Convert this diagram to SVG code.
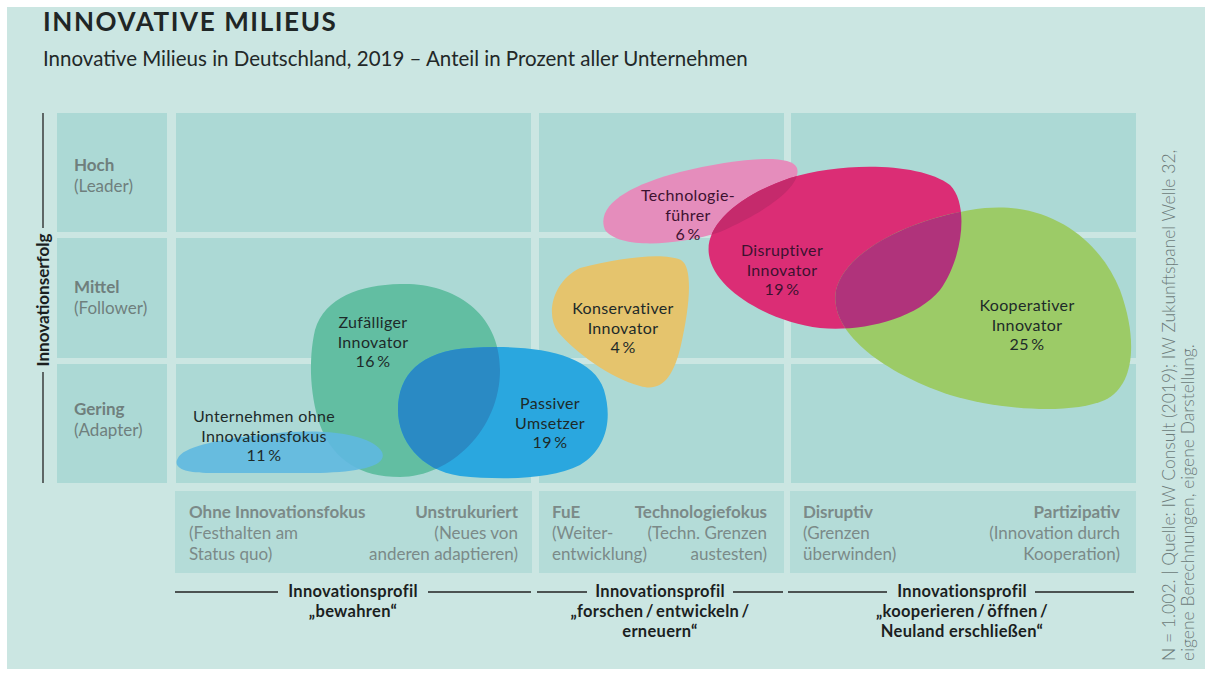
<svg xmlns="http://www.w3.org/2000/svg" width="1212" height="675" viewBox="0 0 1212 675">
<style>
  text { font-family: Lato, "Noto Sans", "Liberation Sans", sans-serif; }
  .cell { fill: #acd9d5; }
  .bcell { fill: #b4dcd8; }
  .rl { font-size: 17px; fill: #6f7f7d; }
  .rlb { font-size: 17px; fill: #6f7f7d; font-weight: bold; }
  .bl { font-size: 17px; fill: #7b8a88; }
  .blb { font-size: 17px; fill: #7b8a88; font-weight: bold; }
  .blob { font-size: 16px; letter-spacing: 0.35px; fill: #1d2a29; text-anchor: middle; }
  .blobm { font-size: 16px; letter-spacing: 0.35px; fill: #3d1230; text-anchor: middle; }
  .prof { font-size: 16.5px; letter-spacing: 0.3px; fill: #1b1f1f; font-weight: bold; text-anchor: middle; }
  .ln { stroke: #222; stroke-width: 1.3; fill: none; }
  .src { font-size: 17.5px; fill: #6c7a79; font-weight: 300; }
</style>
<defs>
  <path id="shG1" d="M 400 284 C 450 282, 500 310, 500 370 C 500 430, 450 477, 400 477 C 360 477, 335 460, 322 430 C 310 400, 308 360, 315 330 C 325 297, 360 285, 400 284 Z"/>
  <path id="shB" d="M 470 348 C 530 344, 592 352, 604 390 C 613 420, 606 450, 580 465 C 550 480, 500 480, 460 476 C 420 470, 398 440, 398 410 C 398 375, 420 351, 470 348 Z"/>
  <path id="shL" d="M 178 458 C 185 445, 230 437, 290 432 C 340 429, 375 438, 382 452 C 388 466, 360 472, 320 473 L 210 473 C 185 473, 172 468, 178 458 Z"/>
  <path id="shY" d="M 580 268 C 620 258, 662 252, 681 260 C 694 268, 689 310, 681 345 C 673 380, 660 392, 640 386 C 610 378, 575 352, 558 332 C 545 314, 553 281, 580 268 Z"/>
  <path id="shP" d="M 605 230 C 595 205, 630 185, 680 172 C 730 160, 790 152, 797 168 C 802 185, 770 210, 720 232 C 680 245, 620 250, 605 230 Z"/>
  <path id="shM" d="M 709 255 C 704 225, 740 195, 790 178 C 840 162, 920 162, 950 185 C 970 205, 962 260, 940 290 C 915 320, 860 332, 820 328 C 770 322, 714 290, 709 255 Z"/>
  <path id="shK" d="M 836 290 C 846 248, 920 215, 985 208 C 1050 202, 1100 240, 1120 290 C 1138 340, 1135 385, 1105 400 C 1070 415, 1000 410, 950 395 C 890 375, 828 335, 836 290 Z"/>
  <clipPath id="cG1"><use href="#shG1"/></clipPath>
  <clipPath id="cP"><use href="#shP"/></clipPath>
  <clipPath id="cM"><use href="#shM"/></clipPath>
</defs>

<rect x="0" y="0" width="1212" height="675" fill="#ffffff"/>
<rect x="7" y="7" width="1198" height="662" fill="#cbe6e2"/>

<g id="title">
  <text x="43" y="31" font-size="26" font-weight="bold" fill="#1f2626" letter-spacing="1.6">INNOVATIVE MILIEUS</text>
  <text x="43" y="66" font-size="20.5" fill="#222828">Innovative Milieus in Deutschland, 2019 – Anteil in Prozent aller Unternehmen</text>
</g>

<g id="grid">
  <rect class="cell" x="57" y="113" width="110" height="119"/>
  <rect class="cell" x="57" y="238" width="110" height="120"/>
  <rect class="cell" x="57" y="364" width="110" height="119"/>
  <rect class="cell" x="176" y="113" width="355" height="119"/>
  <rect class="cell" x="176" y="238" width="355" height="120"/>
  <rect class="cell" x="176" y="364" width="355" height="119"/>
  <rect class="cell" x="539" y="113" width="245" height="119"/>
  <rect class="cell" x="539" y="238" width="245" height="120"/>
  <rect class="cell" x="539" y="364" width="245" height="119"/>
  <rect class="cell" x="791" y="113" width="345" height="119"/>
  <rect class="cell" x="791" y="238" width="345" height="120"/>
  <rect class="cell" x="791" y="364" width="345" height="119"/>
  <rect class="bcell" x="175" y="491" width="357" height="82"/>
  <rect class="bcell" x="539" y="491" width="245" height="82"/>
  <rect class="bcell" x="790" y="491" width="346" height="82"/>
</g>

<g id="axis-y">
  <line class="ln" x1="43" y1="113" x2="43" y2="228"/>
  <line class="ln" x1="43" y1="372" x2="43" y2="483"/>
  <text x="0" y="0" transform="translate(49,300) rotate(-90)" font-size="17" font-weight="bold" fill="#1b1f1f" text-anchor="middle">Innovationserfolg</text>
</g>

<g id="row-labels">
  <text class="rlb" x="74" y="171">Hoch</text>
  <text class="rl" x="74" y="192">(Leader)</text>
  <text class="rlb" x="74" y="293">Mittel</text>
  <text class="rl" x="74" y="314">(Follower)</text>
  <text class="rlb" x="74" y="415">Gering</text>
  <text class="rl" x="74" y="436">(Adapter)</text>
</g>

<g id="col-labels">
  <text class="blb" x="189" y="518">Ohne Innovationsfokus</text>
  <text class="bl" x="189" y="539">(Festhalten am</text>
  <text class="bl" x="189" y="560">Status quo)</text>
  <text class="blb" x="518" y="518" text-anchor="end">Unstrukuriert</text>
  <text class="bl" x="518" y="539" text-anchor="end">(Neues von</text>
  <text class="bl" x="518" y="560" text-anchor="end">anderen adaptieren)</text>

  <text class="blb" x="552" y="518">FuE</text>
  <text class="bl" x="552" y="539">(Weiter-</text>
  <text class="bl" x="552" y="560">entwicklung)</text>
  <text class="blb" x="767" y="518" text-anchor="end">Technologiefokus</text>
  <text class="bl" x="767" y="539" text-anchor="end">(Techn. Grenzen</text>
  <text class="bl" x="767" y="560" text-anchor="end">austesten)</text>

  <text class="blb" x="803" y="518">Disruptiv</text>
  <text class="bl" x="803" y="539">(Grenzen</text>
  <text class="bl" x="803" y="560">überwinden)</text>
  <text class="blb" x="1120" y="518" text-anchor="end">Partizipativ</text>
  <text class="bl" x="1120" y="539" text-anchor="end">(Innovation durch</text>
  <text class="bl" x="1120" y="560" text-anchor="end">Kooperation)</text>
</g>

<g id="profiles">
  <line class="ln" x1="175" y1="592" x2="278" y2="592"/>
  <line class="ln" x1="428" y1="592" x2="531" y2="592"/>
  <text class="prof" x="353" y="597">Innovationsprofil</text>
  <text class="prof" x="353" y="617">„bewahren“</text>

  <line class="ln" x1="537" y1="592" x2="587" y2="592"/>
  <line class="ln" x1="733" y1="592" x2="783" y2="592"/>
  <text class="prof" x="660" y="597">Innovationsprofil</text>
  <text class="prof" x="660" y="617">„forschen&#8201;/&#8201;entwickeln&#8201;/</text>
  <text class="prof" x="660" y="637">erneuern“</text>

  <line class="ln" x1="788" y1="592" x2="887" y2="592"/>
  <line class="ln" x1="1035" y1="592" x2="1134" y2="592"/>
  <text class="prof" x="962" y="597">Innovationsprofil</text>
  <text class="prof" x="962" y="617">„kooperieren&#8201;/&#8201;öffnen&#8201;/</text>
  <text class="prof" x="962" y="637">Neuland erschließen“</text>
</g>

<g id="source">
  <text class="src" transform="translate(1175,661) rotate(-90)">N = 1.002. | Quelle: IW Consult (2019); IW Zukunftspanel Welle 32,</text>
  <text class="src" transform="translate(1194,661) rotate(-90)">eigene Berechnungen, eigene Darstellung.</text>
</g>

<g id="node-zufaelliger">
  <use href="#shG1" fill="#62bea2"/>
</g>
<g id="node-passiver">
  <use href="#shB" fill="#2aa7df"/>
  <use href="#shB" fill="#2a8ac4" clip-path="url(#cG1)"/>
  <text class="blob" x="550" y="409">Passiver</text>
  <text class="blob" x="550" y="428.5">Umsetzer</text>
  <text class="blob" x="550" y="448">19&#8201;%</text>
</g>
<g id="node-ohne">
  <use href="#shL" fill="#5fb8e0" fill-opacity="0.9"/>
  <text class="blob" x="264" y="422">Unternehmen ohne</text>
  <text class="blob" x="264" y="441.5">Innovationsfokus</text>
  <text class="blob" x="264" y="461">11&#8201;%</text>
</g>
<g id="label-zufaelliger">
  <text class="blob" x="373" y="328">Zufälliger</text>
  <text class="blob" x="373" y="347.5">Innovator</text>
  <text class="blob" x="373" y="367">16&#8201;%</text>
</g>
<g id="node-konservativer">
  <use href="#shY" fill="#e5c46d"/>
  <text class="blob" x="623" y="314">Konservativer</text>
  <text class="blob" x="623" y="333.5">Innovator</text>
  <text class="blob" x="623" y="353">4&#8201;%</text>
</g>
<g id="node-technologie">
  <use href="#shP" fill="#e58dbc"/>
  <text class="blobm" x="688" y="201">Technologie-</text>
  <text class="blobm" x="688" y="220.5">führer</text>
  <text class="blobm" x="688" y="240">6&#8201;%</text>
</g>
<g id="node-disruptiver">
  <use href="#shM" fill="#db2d75"/>
  <use href="#shM" fill="#c52a6c" clip-path="url(#cP)"/>
  <text class="blobm" x="782" y="256">Disruptiver</text>
  <text class="blobm" x="782" y="275.5">Innovator</text>
  <text class="blobm" x="782" y="295">19&#8201;%</text>
</g>
<g id="node-kooperativer">
  <use href="#shK" fill="#9ccb67"/>
  <use href="#shK" fill="#b0337b" clip-path="url(#cM)"/>
  <text class="blob" x="1027" y="311">Kooperativer</text>
  <text class="blob" x="1027" y="330.5">Innovator</text>
  <text class="blob" x="1027" y="350">25&#8201;%</text>
</g>
</svg>
